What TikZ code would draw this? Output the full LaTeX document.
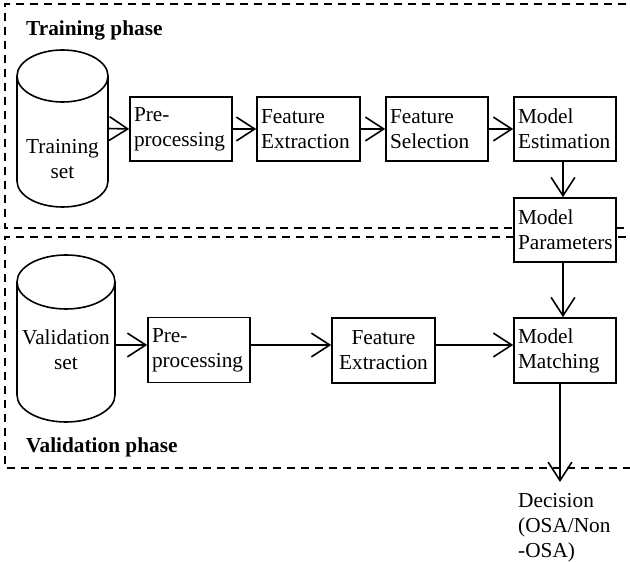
\documentclass[tikz,border=0pt]{standalone}
\usepackage{fontspec}
\setmainfont{Liberation Serif}
\usetikzlibrary{arrows.meta}
\begin{document}
\begin{tikzpicture}[x=1pt,y=1pt,
  every node/.style={font=\fontsize{21.3}{25}\selectfont},
  proc/.style={draw, line width=1.6pt, fill=white, minimum height=64pt, minimum width=102pt, text width=94pt, inner xsep=4pt, inner ysep=0pt, align=left},
  arr/.style={-{Straight Barb[length=17pt,width=22pt,scale=1.08]}, line width=1.6pt},
  frame/.style={draw, line width=1.5pt, dash pattern=on 8pt off 6pt},
  ttl/.style={font=\fontsize{21.3}{25}\selectfont\bfseries, anchor=west, inner sep=0pt},
  cyl/.style={line width=1.6pt},
  holder/.style={inner sep=0pt}]
\useasboundingbox (0,0) rectangle (630,562);
% phase frames
\draw[frame] (640,558) -- (5,558) -- (5,334) -- (640,334);
\draw[frame] (640,325) -- (5,325) -- (5,94) -- (640,94);
\node[ttl] (ttrain) at (26,532) {Training phase};
\node[ttl] (tval) at (26,115) {Validation phase};
% training cylinder
\draw[cyl] (17,486) -- (17,381) arc[start angle=180, end angle=360, x radius=45.5, y radius=26] -- (108,486);
\draw[cyl] (62.5,486) ellipse[x radius=45.5, y radius=26];
\node[holder, minimum width=91pt, minimum height=157pt] (tcyl) at (62.5,433.5) {};
\node[align=center, inner sep=0pt] (tset) at (62.5,403) {Training\\set};
% validation cylinder
\draw[cyl] (17,280) -- (17,167) arc[start angle=180, end angle=360, x radius=49, y radius=27] -- (115,280);
\draw[cyl] (66,280) ellipse[x radius=49, y radius=27];
\node[holder, minimum width=98pt, minimum height=167pt] (vcyl) at (66,223.5) {};
\node[align=center, inner sep=0pt] (vset) at (66,212) {Validation\\set};
% training boxes
\node[proc] (tpre) at (181,433) {Pre-\\processing};
\node[proc, minimum width=103pt, text width=95pt] (tfe) at (308.5,433) {Feature\\Extraction};
\node[proc] (tfs) at (437,433) {Feature\\Selection};
\node[proc] (tme) at (565,433) {Model\\Estimation};
\node[proc] (mp) at (565,332) {Model\\Parameters};
% validation boxes
\node[proc, minimum height=65pt] (vpre) at (199,212) {Pre-\\processing};
\node[proc, minimum height=65pt, minimum width=103pt, text width=95pt, align=center] (vfe) at (383.5,211.5) {Feature\\Extraction};
\node[proc, minimum height=65pt] (mm) at (565,211.5) {Model\\Matching};
% decision
\coordinate (dtip) at (560,80);
\node[anchor=north west, inner sep=0pt, align=left] (dec) at (518,69) {Decision\\(OSA/Non\\-OSA)};
% connectors
\draw[arr] (tcyl.east) -- (tpre.west);
\draw[arr] (tpre.east) -- (tfe.west);
\draw[arr] (tfe.east) -- (tfs.west);
\draw[arr] (tfs.east) -- (tme.west);
\draw[arr] ([xshift=-2pt]tme.south) -- ([xshift=-2pt]mp.north);
\draw[arr] ([xshift=-2pt]mp.south) -- ([xshift=-2pt]mm.north);
\draw[arr] ([yshift=-6.5pt]vcyl.east) -- ([yshift=5pt]vpre.west);
\draw[arr] ([yshift=5pt]vpre.east) -- ([yshift=5.5pt]vfe.west);
\draw[arr] ([yshift=5.5pt]vfe.east) -- ([yshift=5.5pt]mm.west);
\draw[arr] ([xshift=-5pt]mm.south) -- (dtip);
\end{tikzpicture}
\end{document}
